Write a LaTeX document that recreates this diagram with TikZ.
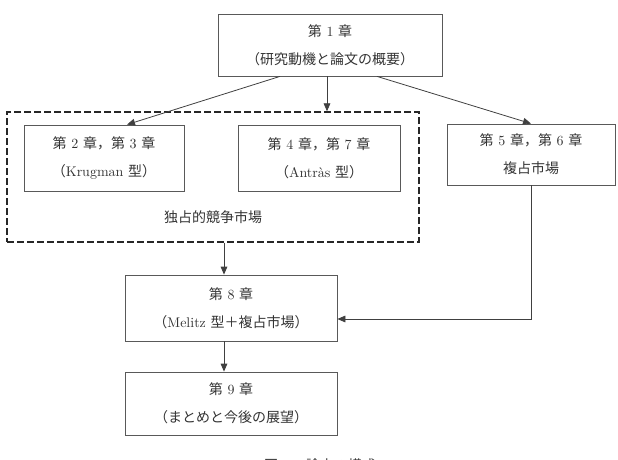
\documentclass[tikz,border=0pt]{standalone}
\usepackage{fontspec}
\newfontfamily\jpfont{Noto Sans CJK JP}
\newcommand{\jp}[1]{{\jpfont #1}}
\usetikzlibrary{arrows.meta,calc}

\begin{document}
\begin{tikzpicture}[
  x=0.75pt, y=-0.75pt,
  arrow/.style={-{Triangle[length=6pt,width=5pt]}, line width=0.6pt, draw=black!75},
  chapter/.style={draw=black!65, line width=0.6pt, align=center, inner sep=0pt,
    text=black!80, font=\fontsize{10.5}{21}\selectfont},
  group/.style={draw=black!85, line width=1pt, dash pattern=on 5pt off 2.5pt},
  label/.style={text=black!80, font=\fontsize{10.5}{13}\selectfont},
]
\useasboundingbox (0,0) rectangle (618,460);

% === CHAPTER BOXES ===
\node[chapter, minimum width=224*0.75pt, minimum height=62*0.75pt] (c1) at (330,45)
  {\jp{第} 1 \jp{章}\\\jp{（研究動機と論文の概要）}};

\node[group, minimum width=412*0.75pt, minimum height=130*0.75pt] (mc) at (213,177) {};
\node[label] (mclabel) at (213,217) {\jp{独占的競争市場}};

\node[chapter, minimum width=160*0.75pt, minimum height=66*0.75pt] (c23) at (104,158)
  {\jp{第} 2 \jp{章，第} 3 \jp{章}\\\jp{（}Krugman \jp{型）}};
\node[chapter, minimum width=162*0.75pt, minimum height=66*0.75pt] (c47) at (319,158)
  {\jp{第} 4 \jp{章，第} 7 \jp{章}\\\jp{（}Antràs \jp{型）}};
\node[chapter, minimum width=168*0.75pt, minimum height=61*0.75pt] (c56) at (531,154.5)
  {\jp{第} 5 \jp{章，第} 6 \jp{章}\\\jp{複占市場}};

\node[chapter, minimum width=212*0.75pt, minimum height=66*0.75pt] (c8) at (231,308)
  {\jp{第} 8 \jp{章}\\\jp{（}Melitz \jp{型＋複占市場）}};
\node[chapter, minimum width=212*0.75pt, minimum height=63*0.75pt] (c9) at (231,403.5)
  {\jp{第} 9 \jp{章}\\\jp{（まとめと今後の展望）}};

\node[label] (caption) at (320,465) {\jp{図} 1-1 \jp{論文の構成}};

% === ARROWS ===
\coordinate (m8) at ($(c8.north)+(-7,0)$);
\draw[arrow] ($(c1.south)+(-50,0)$) -- ($(c23.north)+(23,0)$);
\draw[arrow] ($(c1.south)+(-3,0)$) -- ($(mc.north)+(114,0)$);
\draw[arrow] ($(c1.south)+(47,0)$) -- (c56.north);
\draw[arrow] (mc.south -| m8) -- (m8);
\draw[arrow] (c8.south -| m8) -- (c9.north -| m8);
\draw[arrow] (c56.south) |- ($(c8.east)+(0,11)$);
\end{tikzpicture}
\end{document}
